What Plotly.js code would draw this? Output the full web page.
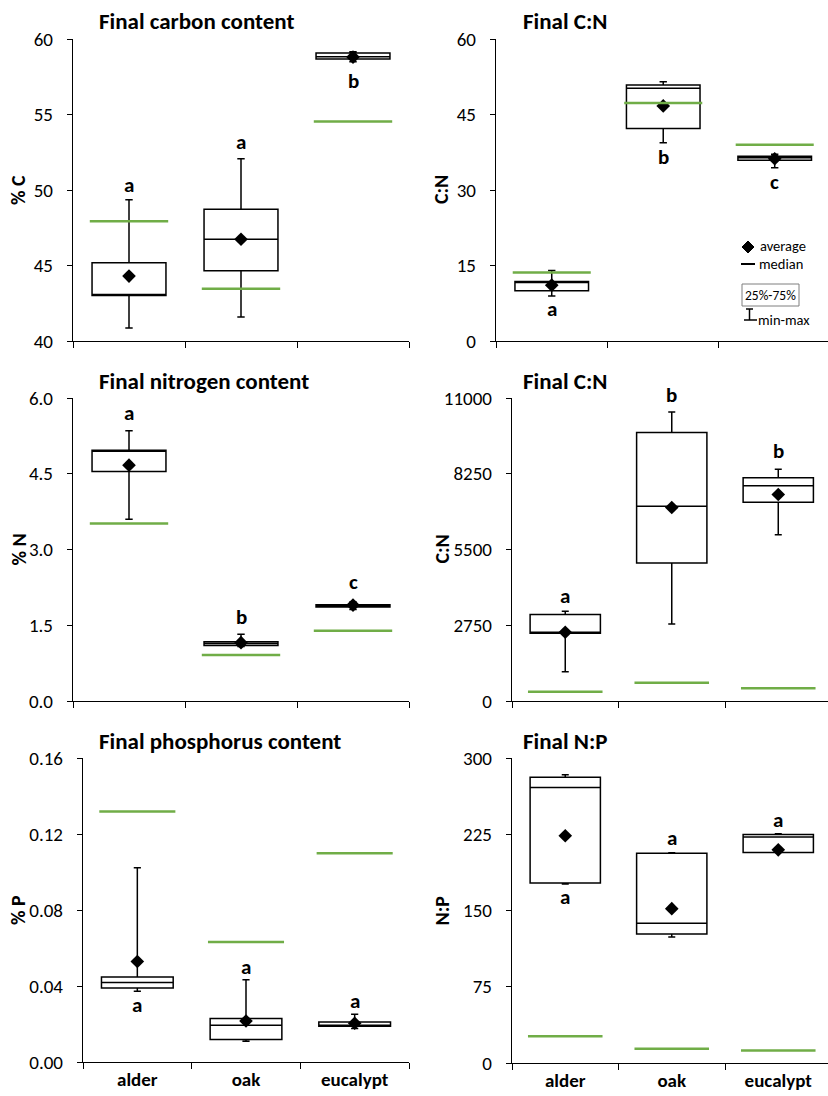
<!DOCTYPE html>
<html>
<head>
<meta charset="utf-8">
<script src="https://cdn.plot.ly/plotly-3.0.1.min.js"></script>
<style>html,body{margin:0;padding:0;background:#fff}#chart{width:828px;height:1096px}</style>
</head>
<body>
<div id="chart"></div>
<script>
// ---------- DATA ----------
const categories = ['alder', 'oak', 'eucalypt'];

const carbonQ1 = [43.02, 44.65, 58.68];
const carbonMedian = [43.05, 46.74, 58.83];
const carbonQ3 = [45.18, 48.72, 59.07];
const carbonMin = [40.86, 41.59, 58.5];
const carbonMax = [49.36, 52.07, 59.16];
const carbonMean = [44.3, 46.74, 58.8];
const carbonInitial = [47.93, 43.46, 54.54];
const carbonLetters = ['a', 'a', 'b'];
const carbonLetterY = [50.35, 53.2, 57.2];
const carbonTicks = [40, 45, 50, 55, 60];

const cnQ1 = [10.0, 42.2, 35.9];
const cnMedian = [11.7, 50.2, 36.4];
const cnQ3 = [11.8, 50.86, 36.7];
const cnMin = [8.94, 39.4, 34.4];
const cnMax = [14.0, 51.5, 37.1];
const cnMean = [11.1, 46.7, 36.2];
const cnInitial = [13.6, 47.3, 39.0];
const cnLetters = ['a', 'b', 'c'];
const cnLetterY = [6.3, 36.6, 31.5];
const cnTicks = [0, 15, 30, 45, 60];

const nitrogenQ1 = [4.543, 1.10, 1.86];
const nitrogenMedian = [4.95, 1.14, 1.887];
const nitrogenQ3 = [4.965, 1.175, 1.906];
const nitrogenMin = [3.6, 1.08, 1.81];
const nitrogenMax = [5.35, 1.32, 1.96];
const nitrogenMean = [4.67, 1.155, 1.9];
const nitrogenInitial = [3.515, 0.91, 1.39];
const nitrogenLetters = ['a', 'b', 'c'];
const nitrogenLetterY = [5.71, 1.67, 2.36];
const nitrogenTicks = [0, 1.5, 3.0, 4.5, 6.0];

const cn2Q1 = [2459, 5014, 7218];
const cn2Median = [2483, 7073, 7811];
const cn2Q3 = [3137, 9749, 8102];
const cn2Min = [1066, 2798, 6031];
const cn2Max = [3258, 10488, 8417];
const cn2Mean = [2495, 7024, 7496];
const cn2Initial = [339, 666, 460];
const cn2Letters = ['a', 'b', 'b'];
const cn2LetterY = [3827, 11117, 9070];
const cn2Ticks = [0, 2750, 5500, 8250, 11000];

const phosQ1 = [0.0390, 0.0118, 0.0188];
const phosMedian = [0.0419, 0.0193, 0.0193];
const phosQ3 = [0.0448, 0.0229, 0.0211];
const phosMin = [0.0373, 0.0109, 0.0176];
const phosMax = [0.1023, 0.0433, 0.0251];
const phosMean = [0.0529, 0.0216, 0.0204];
const phosInitial = [0.1319, 0.0631, 0.1099];
const phosLetters = ['a', 'a', 'a'];
const phosLetterY = [0.0299, 0.0498, 0.0320];
const phosTicks = [0, 0.04, 0.08, 0.12, 0.16];

const npQ1 = [177.1, 126.8, 207.0];
const npMedian = [271.1, 137.4, 222.2];
const npQ3 = [281.0, 206.4, 224.8];
const npMin = [176.1, 123.9, 207.0];
const npMax = [283.6, 206.7, 225.4];
const npMean = [223.5, 151.8, 209.7];
const npInitial = [26.3, 14.1, 12.2];
const npLetters = ['a', 'a', 'a'];
const npLetterY = [163, 221.2, 238.6];
const npTicks = [0, 75, 150, 225, 300];

const panelTitles = ['Final carbon content', 'Final C:N', 'Final nitrogen content', 'Final C:N', 'Final phosphorus content', 'Final N:P'];
const yTitles = ['% C', 'C:N', '% N', 'C:N', '% P', 'N:P'];
const legendLabels = ['average', 'median', '25%-75%', 'min-max'];

// ---------- LAYOUT GEOMETRY (pixels) ----------
const W = 828, H = 1096;
const px = x => x / W;
const py = y => 1 - y / H;
const FONT = 'Carlito, Lato, "Open Sans", sans-serif';
const GREEN = '#70AD47';

const panels = [
  {d: [carbonQ1, carbonMedian, carbonQ3, carbonMin, carbonMax, carbonMean, carbonInitial, carbonLetters, carbonLetterY, carbonTicks], fmt: '', l: 73, r: 409, t: 39, b: 341, xr: 2.5, titleX: 97, titleY: 21, yTitleX: 18},
  {d: [cnQ1, cnMedian, cnQ3, cnMin, cnMax, cnMean, cnInitial, cnLetters, cnLetterY, cnTicks], fmt: '', l: 496, r: 828, t: 39, b: 341, xr: 2.478, titleX: 521, titleY: 21, yTitleX: 441},
  {d: [nitrogenQ1, nitrogenMedian, nitrogenQ3, nitrogenMin, nitrogenMax, nitrogenMean, nitrogenInitial, nitrogenLetters, nitrogenLetterY, nitrogenTicks], fmt: '.1f', l: 73, r: 409, t: 398, b: 701, xr: 2.5, titleX: 97, titleY: 381, yTitleX: 18},
  {d: [cn2Q1, cn2Median, cn2Q3, cn2Min, cn2Max, cn2Mean, cn2Initial, cn2Letters, cn2LetterY, cn2Ticks], fmt: 'd', l: 512, r: 828, t: 398, b: 701, xr: 2.467, titleX: 521, titleY: 381, yTitleX: 441},
  {d: [phosQ1, phosMedian, phosQ3, phosMin, phosMax, phosMean, phosInitial, phosLetters, phosLetterY, phosTicks], fmt: '.2f', l: 83, r: 409, t: 758, b: 1062, xr: 2.5, titleX: 97, titleY: 741, yTitleX: 18},
  {d: [npQ1, npMedian, npQ3, npMin, npMax, npMean, npInitial, npLetters, npLetterY, npTicks], fmt: '', l: 512, r: 828, t: 758, b: 1063, xr: 2.467, titleX: 521, titleY: 741, yTitleX: 441}
];

const traces = [];
const shapes = [];
const annotations = [];
const layout = {
  width: W, height: H,
  margin: {l: 0, r: 0, t: 0, b: 0},
  paper_bgcolor: 'white', plot_bgcolor: 'white',
  showlegend: false,
  font: {family: FONT, color: 'black', size: 16}
};

panels.forEach((p, k) => {
  const n = k + 1;
  const xa = 'x' + (n === 1 ? '' : n), ya = 'y' + (n === 1 ? '' : n);
  const [q1, med, q3, mn, mx, mean, init, letters, letterY, ticks] = p.d;
  const ymin = ticks[0], ymax = ticks[ticks.length - 1];
  const isBottom = k >= 4;
  layout['xaxis' + (n === 1 ? '' : n)] = {
    domain: [px(p.l), px(p.r)], anchor: ya,
    type: 'category', categoryorder: 'array', categoryarray: categories,
    range: [-0.5, p.xr], tickson: 'boundaries',
    ticks: 'outside', ticklen: 6, tickcolor: 'black', tickwidth: 1,
    showline: true, linecolor: 'black', linewidth: 1.2,
    showgrid: false, zeroline: false, fixedrange: true,
    showticklabels: isBottom,
    tickfont: {family: FONT, size: 19, color: 'black', weight: 'bold'}
  };
  layout['yaxis' + (n === 1 ? '' : n)] = {
    domain: [py(p.b), py(p.t)], anchor: xa,
    range: [ymin, ymax],
    tickmode: 'array', tickvals: ticks, tickformat: p.fmt,
    ticks: 'outside', ticklen: 5, tickcolor: 'black', tickwidth: 1,
    ticklabelstandoff: 10,
    showline: true, linecolor: 'black', linewidth: 1.2,
    showgrid: false, zeroline: false, fixedrange: true,
    tickfont: {family: FONT, size: 19, color: 'black'}
  };
  traces.push({
    type: 'box', xaxis: xa, yaxis: ya,
    x: categories, q1: q1, median: med, q3: q3, lowerfence: mn, upperfence: mx,
    boxpoints: false, width: 0.66, whiskerwidth: 0.1,
    fillcolor: 'white', line: {color: 'black', width: 1.5},
    hoverinfo: 'skip'
  });
  traces.push({
    type: 'scatter', mode: 'markers', xaxis: xa, yaxis: ya,
    x: categories, y: mean, cliponaxis: false,
    marker: {symbol: 'diamond', size: 10.5, color: 'black'},
    hoverinfo: 'skip'
  });
  init.forEach((v, i) => {
    shapes.push({type: 'line', xref: xa, yref: ya, x0: i - 0.35, x1: i + 0.35, y0: v, y1: v,
      line: {color: GREEN, width: 2.5}, layer: 'above'});
  });
  letters.forEach((t, i) => {
    // position in the y-axis domain fraction so letters above the range still show
    annotations.push({xref: xa, yref: ya + ' domain', x: categories[i], y: (letterY[i] - ymin) / (ymax - ymin),
      text: '<b>' + t + '</b>', showarrow: false, yanchor: 'middle',
      font: {family: FONT, size: 21, color: 'black'}});
  });
  annotations.push({xref: 'paper', yref: 'paper', x: px(p.titleX), y: py(p.titleY),
    xanchor: 'left', yanchor: 'middle', text: '<b>' + panelTitles[k] + '</b>', showarrow: false,
    font: {family: FONT, size: 23, color: 'black'}});
  annotations.push({xref: 'paper', yref: 'paper', x: px(p.yTitleX), y: py((p.t + p.b) / 2),
    xanchor: 'center', yanchor: 'middle', textangle: -90, text: '<b>' + yTitles[k] + '</b>', showarrow: false,
    font: {family: FONT, size: 20, color: 'black'}});
});

// ---------- legend (top-right panel) ----------
const dx = 748, dy = 247, ds = 6;
shapes.push({type: 'path', xref: 'paper', yref: 'paper',
  path: `M ${px(dx)} ${py(dy - ds)} L ${px(dx + ds)} ${py(dy)} L ${px(dx)} ${py(dy + ds)} L ${px(dx - ds)} ${py(dy)} Z`,
  fillcolor: 'black', line: {color: 'black', width: 1}});
shapes.push({type: 'line', xref: 'paper', yref: 'paper', x0: px(741), x1: px(755), y0: py(264), y1: py(264),
  line: {color: 'black', width: 2}});
shapes.push({type: 'rect', xref: 'paper', yref: 'paper', x0: px(742), x1: px(799), y0: py(306), y1: py(284),
  line: {color: '#7f7f7f', width: 1}, fillcolor: 'white'});
shapes.push({type: 'line', xref: 'paper', yref: 'paper', x0: px(749.5), x1: px(749.5), y0: py(309), y1: py(320),
  line: {color: 'black', width: 1.5}});
shapes.push({type: 'line', xref: 'paper', yref: 'paper', x0: px(746), x1: px(753), y0: py(309), y1: py(309),
  line: {color: 'black', width: 1.5}});
shapes.push({type: 'line', xref: 'paper', yref: 'paper', x0: px(744), x1: px(757), y0: py(320), y1: py(320),
  line: {color: 'black', width: 1.5}});
const legPos = [[759, 246, 'left', 14.5], [758, 264, 'left', 14.5], [770.5, 295, 'center', 13.5], [757, 320, 'left', 14.5]];
legendLabels.forEach((t, i) => {
  annotations.push({xref: 'paper', yref: 'paper', x: px(legPos[i][0]), y: py(legPos[i][1]),
    xanchor: legPos[i][2], yanchor: 'middle', text: t, showarrow: false, height: 16, borderpad: 0,
    font: {family: FONT, size: legPos[i][3], color: 'black'}});
});

layout.shapes = shapes;
layout.annotations = annotations;

Plotly.newPlot('chart', traces, layout, {staticPlot: true, displayModeBar: false});
</script>
</body>
</html>
